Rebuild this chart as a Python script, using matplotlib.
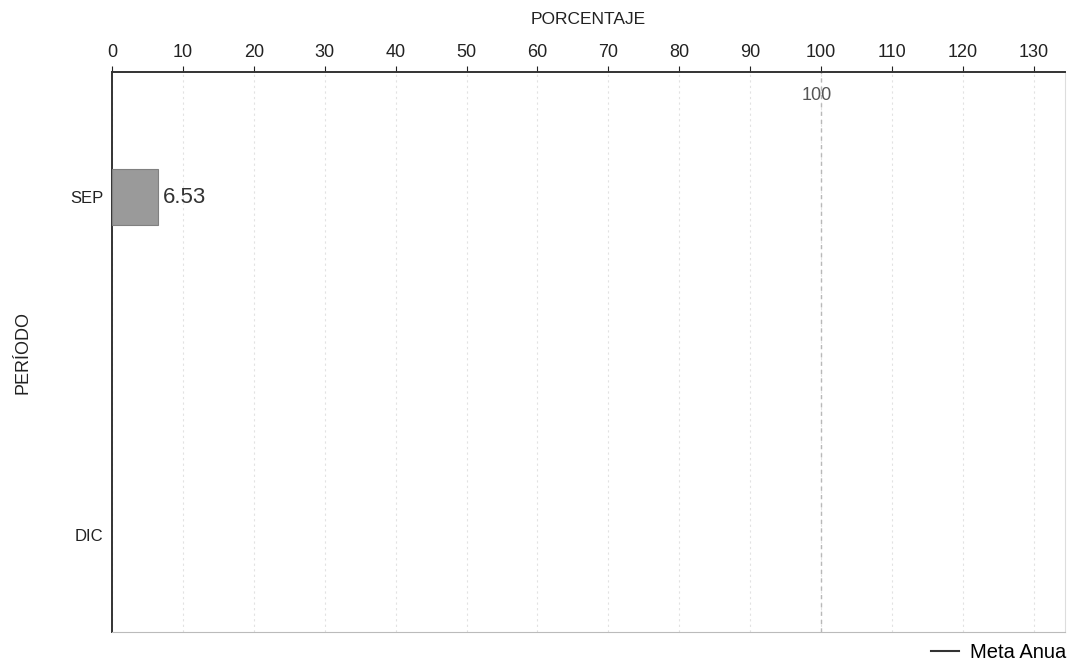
import matplotlib
matplotlib.use('Agg')
import matplotlib.pyplot as plt
from matplotlib.lines import Line2D

plt.rcParams['font.family'] = ['Liberation Sans', 'DejaVu Sans']

periodos = ['SEP', 'DIC']
valores = [6.53, None]
meta_anual = 100
ticks_x = list(range(0, 131, 10))

fig = plt.figure(figsize=(10.67, 6.70), dpi=100)
ax = fig.add_axes([0.105, 0.0567, 0.893, 0.8358])

pos = list(range(len(periodos)))
for p, v in zip(pos, valores):
    if v is None:
        continue
    ax.barh(p, v, height=0.165, color='#9a9a9a', edgecolor='#808080', linewidth=0.8, zorder=3)
    ax.text(v + 0.6, p, f'{v:.2f}', va='center', ha='left', fontsize=16, color='#333333')

# meta anual
ax.axvline(meta_anual, color='#b8b8b8', linestyle=(0, (3, 3)), linewidth=1.0, zorder=2)
ax.text(meta_anual - 0.6, -0.3, str(meta_anual), ha='center', va='center', fontsize=13, color='#555555')

ax.set_xlim(0, 134.4)
ax.set_ylim(1.287, -0.37)
ax.set_yticks(pos)
ax.set_yticklabels(periodos, fontsize=12, color='#222222')
ax.set_xticks(ticks_x)
ax.xaxis.tick_top()
ax.xaxis.set_label_position('top')
ax.tick_params(axis='x', labelsize=13, colors='#222222', length=4, pad=4)
ax.tick_params(axis='y', length=0, pad=6)
ax.set_xlabel('PORCENTAJE', fontsize=12.5, color='#222222', labelpad=14)
ax.set_ylabel('PERÍODO', fontsize=13, color='#222222', labelpad=28)

ax.grid(axis='x', color='#e2e2e2', linestyle=(0, (2, 3)), linewidth=0.8, zorder=0)
ax.spines['right'].set_color('#dddddd')
ax.spines['bottom'].set_color('#bbbbbb')
ax.spines['top'].set_color('#333333')
ax.spines['top'].set_linewidth(1.4)
ax.spines['left'].set_color('#333333')
ax.spines['left'].set_linewidth(1.4)

handle = Line2D([], [], color='#333333', linewidth=1.5)
ax.legend([handle], ['Meta Anual'], loc='center left', bbox_to_anchor=(0.84, -0.036),
          frameon=False, fontsize=14.5, handlelength=1.4, handletextpad=0.55)

fig.savefig('out.png', dpi=100)
